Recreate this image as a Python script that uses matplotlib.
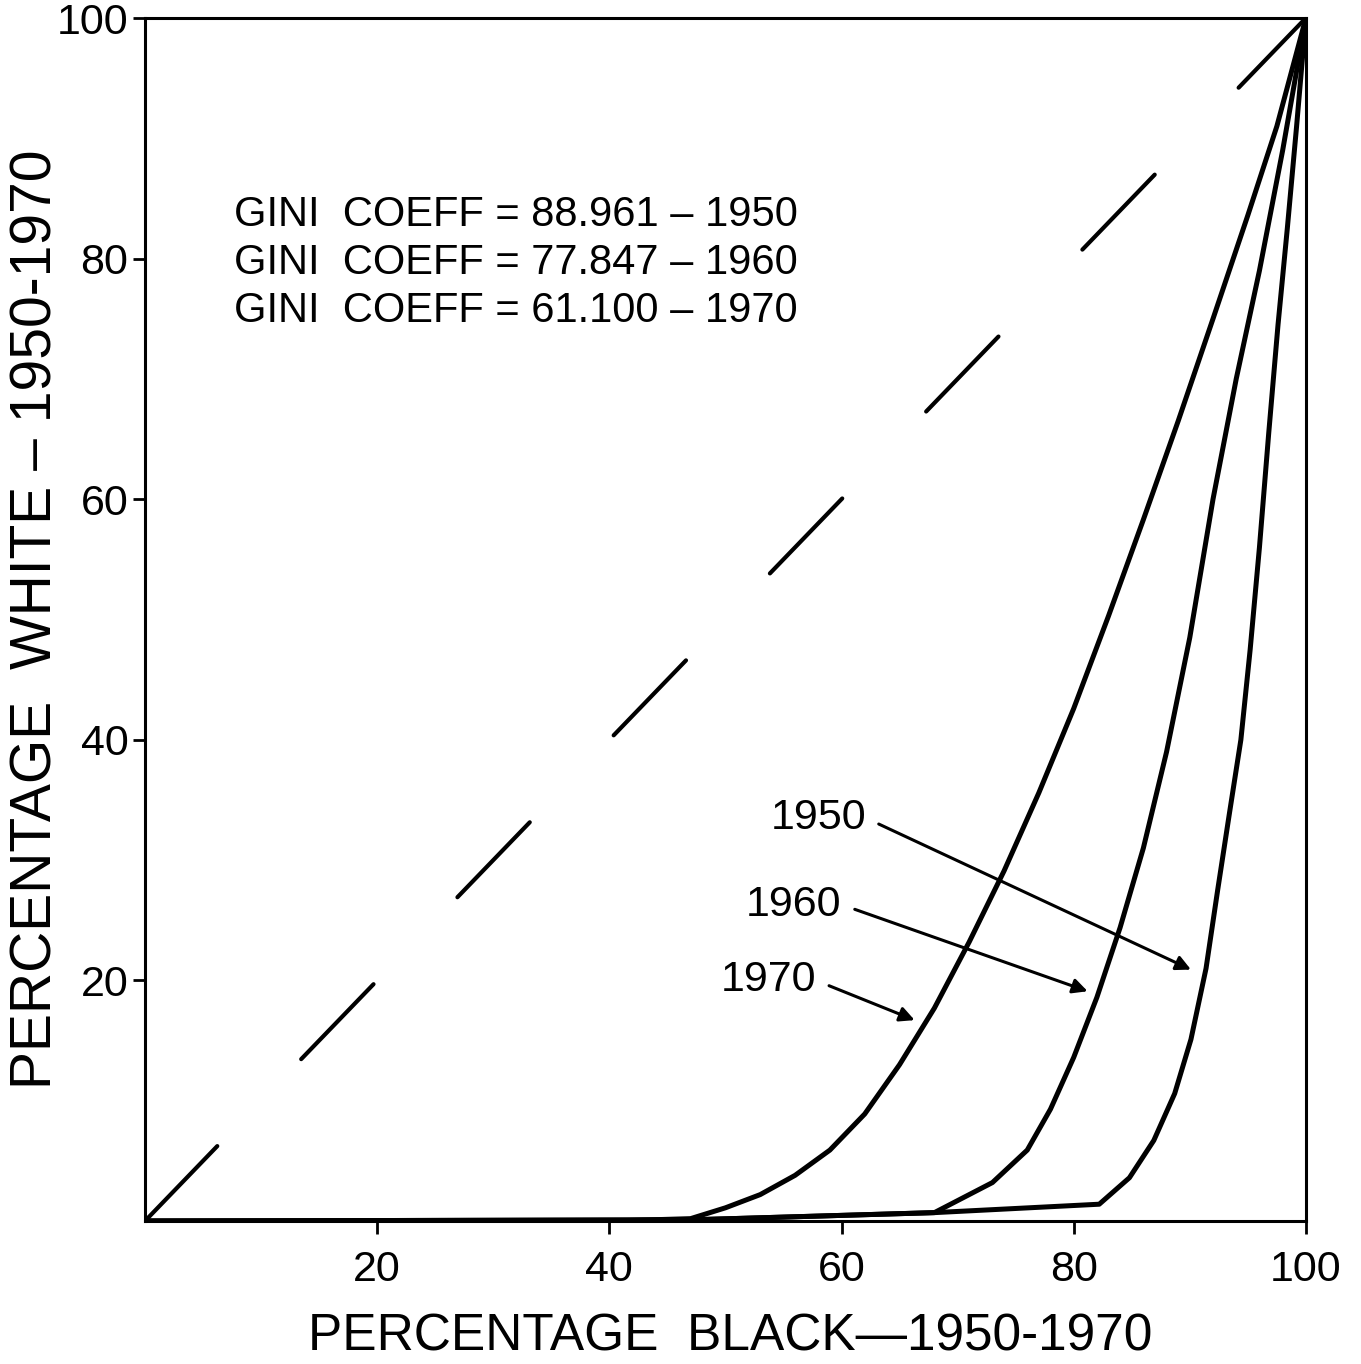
import matplotlib
matplotlib.use("Agg")
import matplotlib.pyplot as plt

plt.rcParams['font.family'] = ['Liberation Sans', 'DejaVu Sans']

# Lorenz curves (percentage black vs percentage white)
x_1950 = [0, 47, 68, 82.2, 84.8, 86.9, 88.7, 90.1, 91.4, 92.4, 93.4, 94.4,
          95.2, 96.0, 96.8, 97.6, 98.4, 99.2, 100]
y_1950 = [0, 0.1, 0.7, 1.4, 3.6, 6.7, 10.6, 15.1, 21.0, 27.5, 33.8, 40.0,
          47.5, 56.0, 65.5, 74.5, 82.5, 91.0, 100]

x_1960 = [0, 47, 68, 73, 76, 78, 80, 82, 84, 86, 88, 90, 92, 94, 96, 98, 100]
y_1960 = [0, 0.1, 0.7, 3.2, 5.9, 9.3, 13.6, 18.6, 24.4, 31.0, 39.0, 48.5,
          60.0, 70.0, 79.0, 89.0, 100]

x_1970 = [0, 40, 47, 50, 53, 56, 59, 62, 65, 68, 71, 74, 77, 80, 83, 86, 89,
          92, 95, 97.5, 100]
y_1970 = [0, 0, 0.2, 1.1, 2.2, 3.8, 5.9, 8.9, 13.0, 17.7, 23.2, 29.1, 35.6,
          42.6, 50.3, 58.3, 66.5, 75.0, 83.6, 91.0, 100]

years = ['1950', '1960', '1970']
gini = ['88.961', '77.847', '61.100']

fig = plt.figure(figsize=(13.61, 13.64), dpi=100)
ax = fig.add_axes([0.1065, 0.1048, 0.853, 0.882])

# line of equality
ax.plot([0, 100], [0, 100], color='black', lw=3, linestyle=(0, (25, 29)),
        dash_capstyle='round')

for xs, ys in [(x_1950, y_1950), (x_1960, y_1960), (x_1970, y_1970)]:
    ax.plot(xs, ys, color='black', lw=3.6, solid_joinstyle='round')

ax.set_xlim(0, 100)
ax.set_ylim(0, 100)
ax.set_xticks([20, 40, 60, 80, 100])
ax.set_yticks([20, 40, 60, 80, 100])
ax.tick_params(direction='out', length=9, width=2, labelsize=31, colors='black')
ax.tick_params(axis='x', pad=12)
ax.tick_params(axis='y', pad=3)
for s in ax.spines.values():
    s.set_linewidth(2.2)

ax.set_xlabel('PERCENTAGE  BLACK\u20141950-1970', fontsize=37)
ax.set_ylabel('PERCENTAGE  WHITE \u2013 1950-1970', fontsize=41)
ax.xaxis.set_label_coords(0.504, -0.0756)
ax.yaxis.set_label_coords(-0.07, 0.5)

# gini coefficients
for i, (g, yr) in enumerate(zip(gini, years)):
    ax.text(7.7, 82.7 - i * 4.0, f'GINI  COEFF = {g} \u2013 {yr}',
            fontsize=30, ha='left', va='baseline')

# year labels with arrows
tips = [(90.1, 20.9), (81.2, 19.1), (66.3, 16.7)]
label_pos = [(62.1, 33.5), (60.0, 26.3), (57.8, 20.0)]
for yr, tip, pos in zip(years, tips, label_pos):
    ax.annotate(yr, xy=tip, xytext=pos, fontsize=31, ha='right', va='center',
                arrowprops=dict(arrowstyle='-|>', color='black', lw=2.2,
                                mutation_scale=22, relpos=(1, 0.5),
                                shrinkA=8, shrinkB=0))

fig.savefig('out.png', dpi=100)
